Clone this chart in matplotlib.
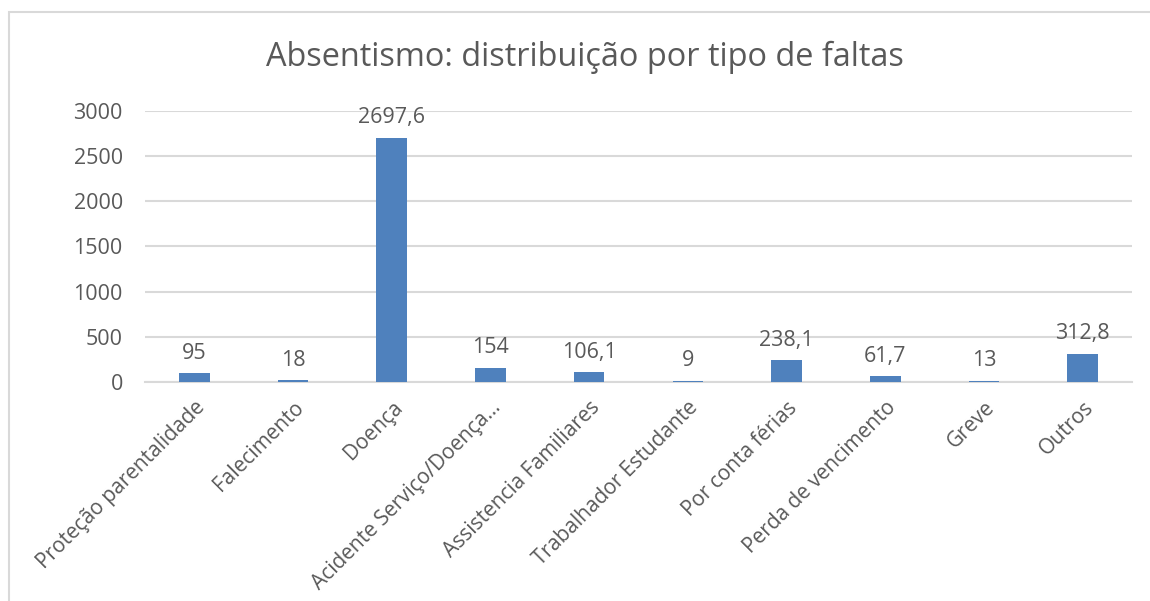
import matplotlib
matplotlib.use("Agg")
import matplotlib.pyplot as plt
from matplotlib.patches import Rectangle

categories = ["Proteção parentalidade", "Falecimento", "Doença", "Acidente Serviço/Doença…",
              "Assistencia Familiares", "Trabalhador Estudante", "Por conta férias",
              "Perda de vencimento", "Greve", "Outros"]
values = [95, 18, 2697.6, 154, 106.1, 9, 238.1, 61.7, 13, 312.8]
yticks = [0, 500, 1000, 1500, 2000, 2500, 3000]
title = "Absentismo: distribuição por tipo de faltas"

plt.rcParams['font.family'] = ['Open Sans', 'DejaVu Sans']
txt = '#595959'
bar_color = '#4F81BD'
grid = '#D9D9D9'
fs = 15.5

fig = plt.figure(figsize=(11.5, 6.01), dpi=100)
fig.patches.append(Rectangle((9/1150, -0.1), 1.2, 1 - 12/601 + 0.1, transform=fig.transFigure,
                             fill=False, edgecolor='#D9D9D9', linewidth=1.5))
ax = fig.add_axes([145/1150, 1 - 382/601, 987/1150, (382 - 110.5)/601])

x = list(range(len(categories)))
bars = ax.bar(x, values, width=0.31, color=bar_color, zorder=3)
labels = [f"{v:g}".replace('.', ',') for v in values]
for xi, v, lab in zip(x, values, labels):
    ax.annotate(lab, (xi, v), xytext=(0, 7), textcoords='offset points',
                ha='center', va='bottom', fontsize=fs, color=txt)

ax.set_xlim(-0.5, len(categories) - 0.5)
ax.set_ylim(0, 3000)
ax.set_yticks(yticks)
ax.set_yticklabels([str(t) for t in yticks], fontsize=fs, color=txt)
ax.tick_params(axis='y', length=0, pad=16)
ax.tick_params(axis='x', length=0, pad=11)
ax.set_xticks(x)
ax.set_xticklabels(categories, rotation=45, ha='right', rotation_mode='anchor',
                   fontsize=15, color=txt)
for t in ax.get_xticklabels():
    t.set_x(0)
ax.yaxis.grid(True, color=grid, linewidth=1.5, zorder=0)
for s in ['top', 'right', 'left']:
    ax.spines[s].set_visible(False)
ax.spines['bottom'].set_color(grid)
ax.spines['bottom'].set_linewidth(1.5)

fig.text(585/1150, 1 - 57/601, title, ha='center', va='center', fontsize=23.4, color=txt)

fig.savefig("out.png", dpi=100)
